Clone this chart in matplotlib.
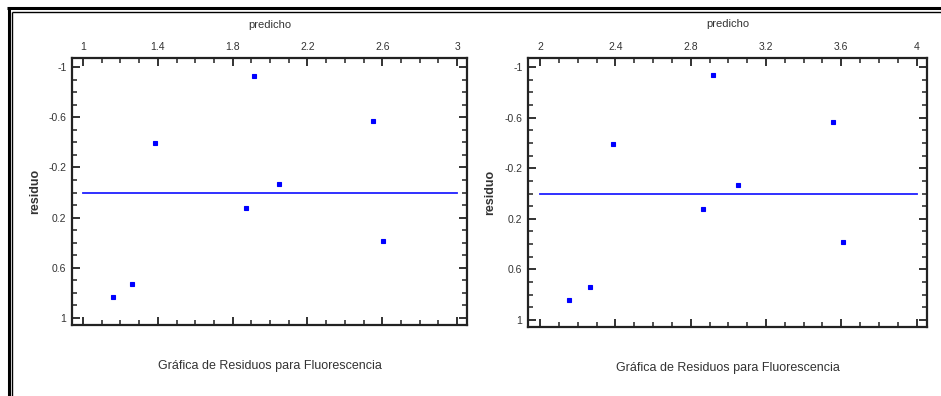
import matplotlib
matplotlib.use("Agg")
import matplotlib.pyplot as plt
from matplotlib.lines import Line2D
from matplotlib.ticker import FixedLocator, MultipleLocator

plt.rcParams["font.family"] = ["Liberation Sans", "DejaVu Sans"]

# ---- data -------------------------------------------------------------
title_text = "Gráfica de Residuos para Fluorescencia"
x_label = "predicho"
y_label = "residuo"

# left panel
pred_a = [1.385, 1.916, 2.050, 2.549, 1.870, 2.603, 1.159, 1.264]
resid_a = [-0.397, -0.928, -0.065, -0.567, 0.121, 0.384, 0.835, 0.729]
xticks_a = [1, 1.4, 1.8, 2.2, 2.6, 3]
xticklabels_a = ["1", "1.4", "1.8", "2.2", "2.6", "3"]

# right panel
pred_b = [2.389, 2.917, 3.053, 3.558, 2.867, 3.607, 2.156, 2.264]
resid_b = [-0.395, -0.934, -0.064, -0.569, 0.123, 0.381, 0.841, 0.736]
xticks_b = [2, 2.4, 2.8, 3.2, 3.6, 4]
xticklabels_b = ["2", "2.4", "2.8", "3.2", "3.6", "4"]

yticks = [-1, -0.6, -0.2, 0.2, 0.6, 1]
yticklabels = ["-1", "-0.6", "-0.2", "0.2", "0.6", "1"]

# ---- figure -----------------------------------------------------------
W, H = 941, 396
fig = plt.figure(figsize=(W / 100, H / 100), dpi=100)
fig.patch.set_facecolor("white")


def px_axes(x0, y0, x1, y1):
    return fig.add_axes([x0 / W, 1 - y1 / H, (x1 - x0) / W, (y1 - y0) / H])


def fline(xs, ys, lw):
    fig.add_artist(Line2D([x / W for x in xs], [1 - y / H for y in ys],
                          transform=fig.transFigure, color="black",
                          linewidth=lw, solid_capstyle="butt"))


# double outer frame
fline([8.5, 8.5], [7, H], 2.2)
fline([7, W], [7.5, 7.5], 2.2)
fline([12, 12], [11.5, H], 1.0)
fline([11.5, W], [12, 12], 1.0)

blue = "#0000ff"


def panel(ax, xs, ys, xticks, xticklabels, xlim):
    ax.plot([xticks[0], xticks[-1]], [0, 0], color="#2020ff", linewidth=1.3,
            zorder=2)
    ax.plot(xs, ys, linestyle="none", marker="s", markersize=3.2,
            markerfacecolor=blue, markeredgecolor=blue, markeredgewidth=0.8,
            zorder=3)
    ax.set_xlim(*xlim)
    ax.set_ylim(1.056, -1.072)
    ax.xaxis.set_major_locator(FixedLocator(xticks))
    ax.set_xticklabels(xticklabels)
    ax.xaxis.set_minor_locator(MultipleLocator(0.1))
    ax.yaxis.set_major_locator(FixedLocator(yticks))
    ax.set_yticklabels(yticklabels)
    ax.yaxis.set_minor_locator(MultipleLocator(0.1))
    ax.tick_params(which="both", direction="in", top=True, bottom=True,
                   left=True, right=True, labeltop=True, labelbottom=False,
                   colors="#222222", labelcolor="#333333", labelsize=7.5)
    ax.tick_params(which="major", length=6, width=1.3, pad=4)
    ax.tick_params(which="minor", length=3.5, width=1.1)
    for s in ax.spines.values():
        s.set_linewidth(1.6)
        s.set_color("#222222")
    ax.set_xlabel(x_label, fontsize=8, color="#333333")
    ax.xaxis.set_label_position("top")
    ax.xaxis.set_label_coords(0.5, 1.125)
    ax.xaxis.label.set_va("center")
    ax.set_ylabel(y_label, fontsize=9, fontweight="bold", color="#333333")
    ax.yaxis.set_label_coords(-0.094, 0.5)
    ax.yaxis.label.set_va("center")
    ax.set_title(title_text, y=-0.183, va="center", fontsize=9,
                 color="#333333")


ax1 = px_axes(72, 58, 467, 325)
panel(ax1, pred_a, resid_a, xticks_a, xticklabels_a, (0.941, 3.053))

ax2 = px_axes(528, 58, 927, 327)
panel(ax2, pred_b, resid_b, xticks_b, xticklabels_b, (1.936, 4.055))

fig.savefig("out.png", dpi=100, facecolor="white")
